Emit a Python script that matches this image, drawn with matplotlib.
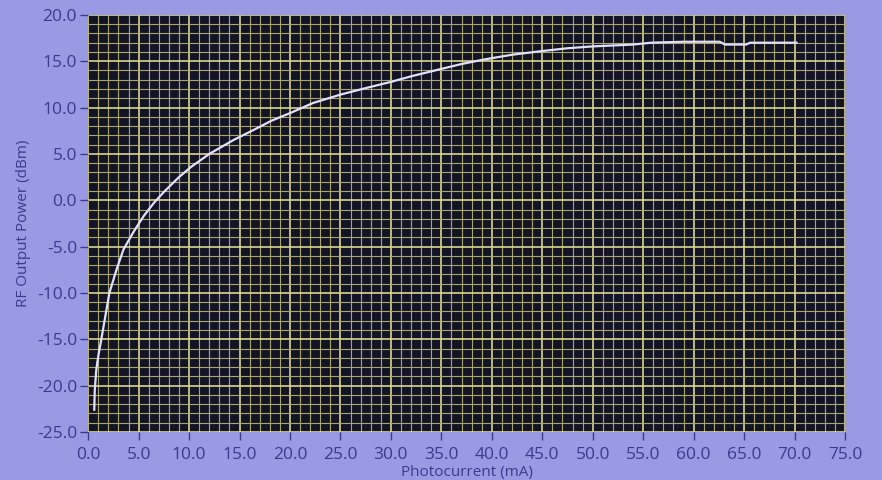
import matplotlib
matplotlib.use("Agg")
import matplotlib.pyplot as plt
from matplotlib.ticker import MultipleLocator, FormatStrFormatter

# Photocurrent (mA) vs RF output power (dBm)
current_ma = [0.6, 0.65, 0.8, 1.0, 1.3, 1.7, 2.1, 2.8, 3.5, 4.5, 5.5, 6.5,
              7.5, 9.0, 10.2, 12.0, 14.4, 16.6, 18.2, 20.0, 22.3, 25.0,
              27.5, 30.1, 32.1, 35.1, 37.0, 39.3, 42.0, 45.0, 47.5, 50.0,
              52.0, 54.0, 55.8, 59.0, 62.6, 63.1, 65.2, 65.6, 70.2]
rf_power_dbm = [-22.6, -20.5, -18.3, -16.8, -15.0, -12.5, -10.0, -7.5, -5.3,
                -3.4, -1.7, -0.3, 0.9, 2.5, 3.6, 5.0, 6.5, 7.7, 8.6, 9.4,
                10.5, 11.4, 12.1, 12.8, 13.4, 14.2, 14.7, 15.2, 15.7, 16.1,
                16.4, 16.6, 16.7, 16.8, 17.0, 17.1, 17.1, 16.8, 16.8, 17.0,
                17.0]

BG = "#9a9ae4"
PLOT_BG = "#131326"
TEXT = "#3a3a8e"

fig = plt.figure(figsize=(8.82, 4.8), dpi=100, facecolor=BG)
ax = fig.add_axes([0.100, 0.100, 0.858, 0.869])
ax.set_facecolor(PLOT_BG)

ax.plot(current_ma, rf_power_dbm, color="#e2e0ff", linewidth=1.6, zorder=3)

ax.set_xlim(0, 75)
ax.set_ylim(-25, 20)
ax.xaxis.set_major_locator(MultipleLocator(5))
ax.yaxis.set_major_locator(MultipleLocator(5))
ax.xaxis.set_minor_locator(MultipleLocator(1))
ax.yaxis.set_minor_locator(MultipleLocator(1))
ax.xaxis.set_major_formatter(FormatStrFormatter("%.1f"))
ax.yaxis.set_major_formatter(FormatStrFormatter("%.1f"))

ax.grid(which="major", color="#d8d68c", linewidth=1.2)
ax.grid(which="minor", color="#a8a66a", linewidth=0.8)
ax.set_axisbelow(True)

for s in ax.spines.values():
    s.set_visible(False)

ax.tick_params(which="major", direction="out", length=6, width=1,
               color=TEXT, labelcolor=TEXT, labelsize=12.5, pad=2)
ax.tick_params(axis="x", which="major", pad=5)
ax.tick_params(which="minor", length=0)
for lab in ax.get_xticklabels() + ax.get_yticklabels():
    lab.set_family("Open Sans")

ax.set_xlabel("Photocurrent (mA)", color=TEXT, fontsize=11,
              family="Open Sans", labelpad=1)
ax.set_ylabel("RF Output Power (dBm)", color=TEXT, fontsize=11,
              family="Open Sans", labelpad=4)

fig.savefig("out.png", dpi=100, facecolor=BG)
